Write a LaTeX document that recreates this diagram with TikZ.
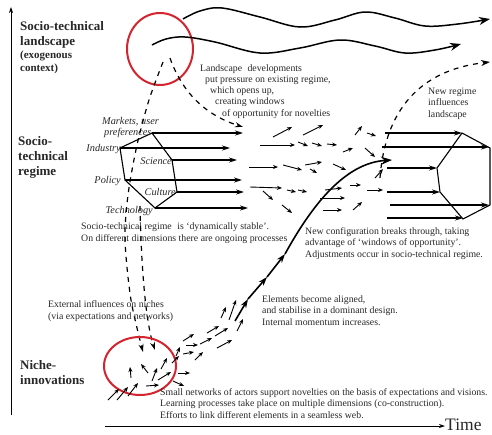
\documentclass[tikz,border=0pt]{standalone}
\usepackage{fontspec}
\setmainfont{Liberation Serif}
\usetikzlibrary{arrows.meta}
\definecolor{nicered}{RGB}{212,36,46}
\definecolor{ink}{RGB}{40,40,40}

\begin{document}
\begin{tikzpicture}[x=1pt,y=-1pt,
  txt/.style={font=\fontsize{9.8}{11.2}\selectfont,text=ink,align=left,inner sep=0pt,anchor=base west},
  dim/.style={font=\fontsize{10.3}{11}\selectfont\itshape,text=ink,inner sep=0pt,anchor=base east},
  tier/.style={font=\fontsize{13}{15}\selectfont\bfseries,text=ink,align=left,inner sep=0pt,anchor=base west},
  wave/.style={line width=1.5pt,-{Stealth[length=11pt,width=8pt]}},
  dimarrow/.style={line width=1.1pt,-{Stealth[length=8pt,width=5pt]}},
  smallarrow/.style={line width=0.9pt,-{Stealth[length=5pt,width=4pt]}},
  chainarrow/.style={line width=1.6pt,-{Stealth[length=9pt,width=6pt]}},
  influence/.style={line width=1.2pt,dash pattern=on 5pt off 5pt,-{Stealth[length=8pt,width=5pt]}},
  window/.style={draw=nicered,line width=2pt}]
\path[use as bounding box,fill=white] (0,0) rectangle (492,434);

% Axes (multi-line nodes sit on the baseline of their last line)
\coordinate (ybot) at (11,415);
\coordinate (ytop) at (11,7);
\draw[line width=0.8pt,-{Stealth[length=6pt,width=4pt]}] (ybot) -- (ytop);
\node[font=\fontsize{17.5}{17.5}\selectfont,text=ink,inner sep=0pt,anchor=base west] (time) at (445,430) {Time};
\coordinate (t0) at (105,426);
\draw[line width=0.8pt,-{Stealth[length=6pt,width=4pt]}] (t0) -- (t0 -| time.west);

% Level labels
\node[tier] (land) at (20,45) {Socio-technical\\landscape};
\node[tier,font=\fontsize{11}{13}\selectfont\bfseries] (exo) at (20,71) {(exogenous\\context)};
\node[tier] (reg) at (18,175) {Socio-\\technical\\regime};
\node[tier] (niche) at (20,384) {Niche-\\innovations};

% Landscape: window circle and wavy developments
\draw[window] (160,49) ellipse [x radius=33, y radius=36];
\draw[wave] plot[smooth,tension=0.6] coordinates {(183,19) (200,11) (222,8) (260,17) (300,27) (335,20) (365,12) (395,18) (425,26) (458,24) (490,19)};
\draw[wave] plot[smooth,tension=0.6] coordinates {(152,45) (166,39) (185,37) (215,42) (260,53) (300,48) (340,40) (375,46) (405,53) (435,50) (461,44)};
\node[txt] (press) at (200,116) {Landscape\hspace{3pt} developments\\
  \hspace*{5pt}put pressure on existing regime,\\
  \hspace*{10pt}which opens up,\\
  \hspace*{15pt}creating windows\\
  \hspace*{22pt}of opportunity for novelties};

% Existing regime: hexagon of dimensions
\foreach \n/\px/\py in {mkt/152/133, sci/172/160, cul/177/192, tec/155/208, pol/125/180, ind/120/148}
  \coordinate (\n) at (\px,\py);
\draw[line width=1.1pt] (mkt) -- (sci) -- (cul) -- (tec) -- (pol) -- (ind) -- cycle;
\foreach \n/\len in {mkt/91, ind/110, sci/65, pol/117, cul/67, tec/93}
  \draw[dimarrow] (\n) -- ++(\len,0);
\node[dim,anchor=base west,align=left] (markets) at (102,135) {Markets, user\\\hspace*{2pt}preferences};
\node[dim] (industry) at (121,151) {Industry};
\node[dim] (science) at (172,164) {Science};
\node[dim] (policy) at (121,183) {Policy};
\node[dim] (culture) at (176,195) {Culture};
\node[dim] (technology) at (153,213) {Technology};
\node[txt] (stable) at (81,241) {Socio-technical regime\hspace{3pt} is `dynamically stable'.\\On different dimensions there are ongoing processes};

% New regime
\foreach \n/\px/\py in {nt/462/133, nru/490/148, nrl/490/205, nb/463/219, nll/440/192, nlu/437/168}
  \coordinate (\n) at (\px,\py);
\draw[line width=1.1pt] (nt) -- (nru) -- (nrl) -- (nb) -- (nll) -- (nlu) -- cycle;
\foreach \sx/\y/\ex in {385/133/462, 382/147/489, 387/168/437, 387/192/440, 390/205/489, 387/218/463}
  \draw[dimarrow] (\sx,\y) -- (\ex,\y);
\node[txt] (newreg) at (428,117) {New regime\\influences\\landscape};
\node[txt] (breaks) at (305,257) {New configuration breaks through, taking\\advantage of `windows of opportunity'.\\Adjustments occur in socio-technical regime.};

% Dashed influences
\draw[influence] (170,58) .. controls (182,92) and (205,115) .. (243,127);
\draw[influence] plot[smooth] coordinates {(163,62) (149,100) (137,145) (128,195) (125,240) (131,300) (143,352)};
\draw[influence] (140,206) .. controls (141,260) and (145,320) .. (155,350);
\draw[influence,-{Stealth[length=9pt,width=6pt]}] (380,178) .. controls (385,110) and (420,70) .. (490,62);

% Unsettled elements between the regimes
\foreach \xa/\ya/\xb/\yb in {273/137/292/127, 303/135/323/125, 355/135/362/126, 367/133/376/136,
    260/145/295/145, 298/142/308/146, 312/143/322/146, 327/144/337/145, 343/152/353/148,
    365/148/375/157, 249/167/278/167, 283/165/302/170, 305/165/322/162, 310/169/317/173,
    333/164/346/170, 375/178/383/169, 250/187/282/188, 263/191/273/200, 287/190/296/192,
    298/190/307/192, 325/190/342/188, 350/185/361/185, 367/190/383/190, 282/205/292/213,
    320/198/345/198, 323/210/342/210, 353/210/362/202}
  \draw[smallarrow] (\xa,\ya) -- (\xb,\yb);

% Niche: window circle and small arrows
\draw[window] (140,366) ellipse [x radius=36, y radius=29];
\foreach \xa/\ya/\xb/\yb in {108/400/119/389, 117/400/128/387, 128/396/138/383, 146/386/159/385,
    131/378/130/367, 148/373/141/364, 152/381/157/368, 161/369/167/358, 158/380/171/372,
    172/363/179/356, 178/373/190/373, 173/381/184/386, 176/356/180/347, 183/354/194/352,
    183/341/194/334, 186/345/198/345, 195/360/203/352, 200/344/212/338, 207/333/219/326,
    215/336/228/328, 217/348/232/340, 221/318/226/307, 229/320/236/300, 237/331/243/319}
  \draw[smallarrow] (\xa,\ya) -- (\xb,\yb);

% Trajectory of the niche-innovation
\coordinate (c1) at (235,321);
\coordinate (c2) at (248,299);
\coordinate (c3) at (267,277);
\coordinate (c4) at (285,254);
\coordinate (c5) at (392,160);
\draw[chainarrow] (c1) -- (c2);
\draw[chainarrow] (c2) -- (c3);
\draw[chainarrow] (c3) -- (c4);
\draw[line width=1.6pt,-{Stealth[length=11pt,width=8pt]}] (c4) .. controls (312,205) and (345,163) .. (c5);

\node[txt] (extern) at (48,319) {External influences on niches\\(via expectations and networks)};
\node[txt] (aligned) at (262,325) {Elements become aligned,\\and stabilise in a dominant design.\\Internal momentum increases.};
\node[txt] (small) at (160,418) {Small networks of actors support novelties on the basis of expectations and visions.\\Learning processes take place on multiple dimensions (co-construction).\\Efforts to link different elements in a seamless web.};
\end{tikzpicture}
\end{document}
